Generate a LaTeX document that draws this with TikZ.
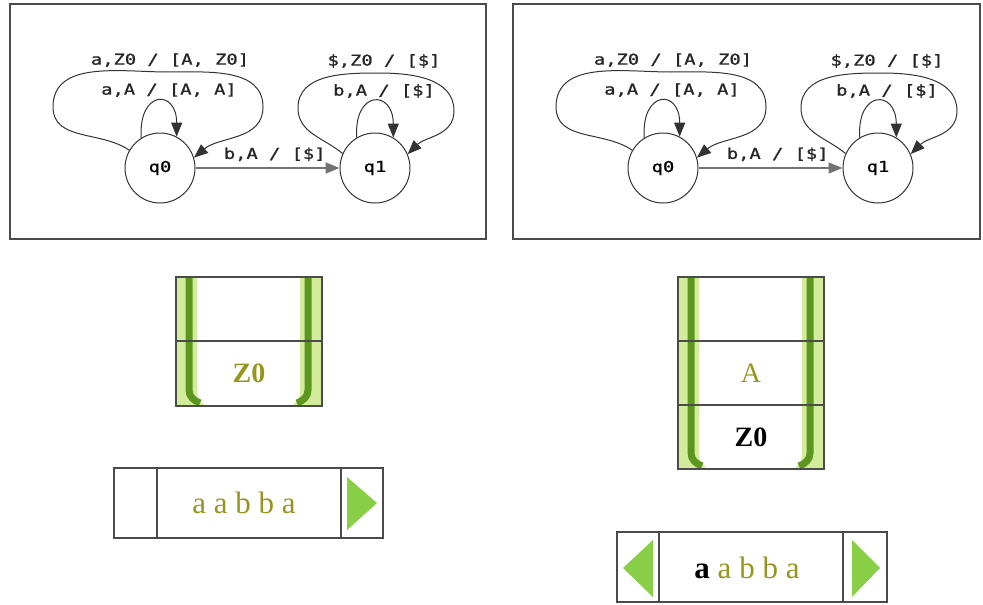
\documentclass[tikz,border=0pt]{standalone}
\usepackage{fontspec}
\setmainfont{Liberation Serif}
\newfontfamily\dotfont[FakeStretch=1.25,FakeBold=1.2]{DejaVu Sans Mono}
\usetikzlibrary{arrows.meta}
\usetikzlibrary{positioning}

\definecolor{bargreen}{RGB}{92,150,30}
\definecolor{palegreen}{RGB}{210,236,155}
\definecolor{arrowgreen}{RGB}{136,206,70}
\definecolor{olivetext}{RGB}{150,150,30}
\definecolor{framegray}{RGB}{75,75,75}

\tikzset{
  state/.style={circle, draw=black!80, line width=1pt, minimum size=70pt, inner sep=0pt, font=\dotfont\fontsize{15}{15}\selectfont},
  lbl/.style={font=\dotfont\fontsize{15}{15}\selectfont, text=black!85, inner sep=0pt},
  edge/.style={draw=black!80, line width=1pt, -{Triangle[length=14pt,width=11pt]}},
  frame/.style={draw=framegray, line width=1.5pt},
  cell/.style={font=\fontsize{28}{28}\selectfont, inner sep=0pt}
}

\begin{document}
\begin{tikzpicture}[x=1pt,y=1pt]
    \useasboundingbox (0,0) rectangle (983,-605);

    % the two automaton panels
    \foreach \g/\dx/\w in {l/0/476, r/503/467} {
        \draw[frame] (10+\dx,-4) rectangle ++(\w,-235);
        \node[state] (q0\g) at (160+\dx,-168) {q0};
        \node[state, right=144pt of q0\g] (q1\g) {q1};

        \draw[edge, line width=1.8pt, draw=black!55] (q0\g) -- (q1\g) node[lbl, pos=0.55, above=6pt] (e\g) {b,A / [\$]};

        \draw[edge] (q0\g.122) .. controls +(-3,48) and +(0,48) .. (q0\g.62);
        \draw[edge] (q0\g.150) to[out=145,in=-90] ([shift={(-107,61)}]q0\g.center) to[out=90,in=180] ([shift={(8,96)}]q0\g.center) to[out=0,in=90] ([shift={(103,61)}]q0\g.center) to[out=-90,in=40] (q0\g.17);
        \node[lbl] (aa\g) at ([shift={(9,78)}]q0\g.center) {a,A / [A, A]};
        \node[lbl] (az\g) at ([shift={(10,108)}]q0\g.center) {a,Z0 / [A, Z0]};

        \draw[edge] (q1\g.121) .. controls +(-3,48) and +(0,48) .. (q1\g.59);
        \draw[edge] (q1\g.156) to[out=140,in=-90] ([shift={(-77,60)}]q1\g.center) to[out=90,in=180] ([shift={(3,95)}]q1\g.center) to[out=0,in=90] ([shift={(79,57)}]q1\g.center) to[out=-90,in=45] (q1\g.23);
        \node[lbl] (ba\g) at ([shift={(9,77)}]q1\g.center) {b,A / [\$]};
        \node[lbl] (dz\g) at ([shift={(9,107)}]q1\g.center) {\$,Z0 / [\$]};
    }

    % stacks
    \foreach \x/\b in {176/406, 678/469} {
        \fill[palegreen] (\x,-277) -- (\x+21,-277) -- (\x+21,14-\b) to[out=-90,in=180] (\x+33,-\b) -- (\x,-\b) -- cycle;
        \fill[palegreen] (\x+146,-277) -- (\x+124,-277) -- (\x+124,14-\b) to[out=-90,in=0] (\x+112,-\b) -- (\x+146,-\b) -- cycle;
        \draw[bargreen, line width=7pt] (\x+13,-277) -- (\x+13,16-\b) to[out=-90,in=160] (\x+24,3-\b);
        \draw[bargreen, line width=7pt] (\x+132,-277) -- (\x+132,16-\b) to[out=-90,in=20] (\x+121,3-\b);
        \draw[frame] (\x,-277) rectangle (\x+146,-\b);
        \draw[frame] (\x,-341) -- (\x+146,-341);
    }
    \draw[frame] (678,-405) -- (824,-405);
    \node[cell, text=olivetext, font=\fontsize{28}{28}\selectfont\bfseries] (zl) at (249,-373) {Z0};
    \node[cell, text=olivetext] (ar) at (751,-373) {A};
    \node[cell, font=\fontsize{28}{28}\selectfont\bfseries] (zr) at (751,-437) {Z0};

    % input tapes
    \draw[frame] (114,-468) rectangle (383,-538);
    \draw[frame] (157,-468) -- (157,-538);
    \draw[frame] (341,-468) -- (341,-538);
    \fill[arrowgreen] (347,-477) -- (377,-503) -- (347,-530) -- cycle;
    \node[cell, text=olivetext, font=\fontsize{31}{31}\selectfont] (tl) at (244,-503) {a a b b a};

    \draw[frame] (617,-532) rectangle (887,-602);
    \draw[frame] (659,-532) -- (659,-602);
    \draw[frame] (843,-532) -- (843,-602);
    \fill[arrowgreen] (653,-540) -- (623,-568) -- (653,-597) -- cycle;
    \fill[arrowgreen] (852,-540) -- (880,-568) -- (852,-597) -- cycle;
    \node[cell, text=olivetext, font=\fontsize{31}{31}\selectfont] (tr) at (747,-568) {\textcolor{black}{\bfseries a} a b b a};
\end{tikzpicture}
\end{document}
